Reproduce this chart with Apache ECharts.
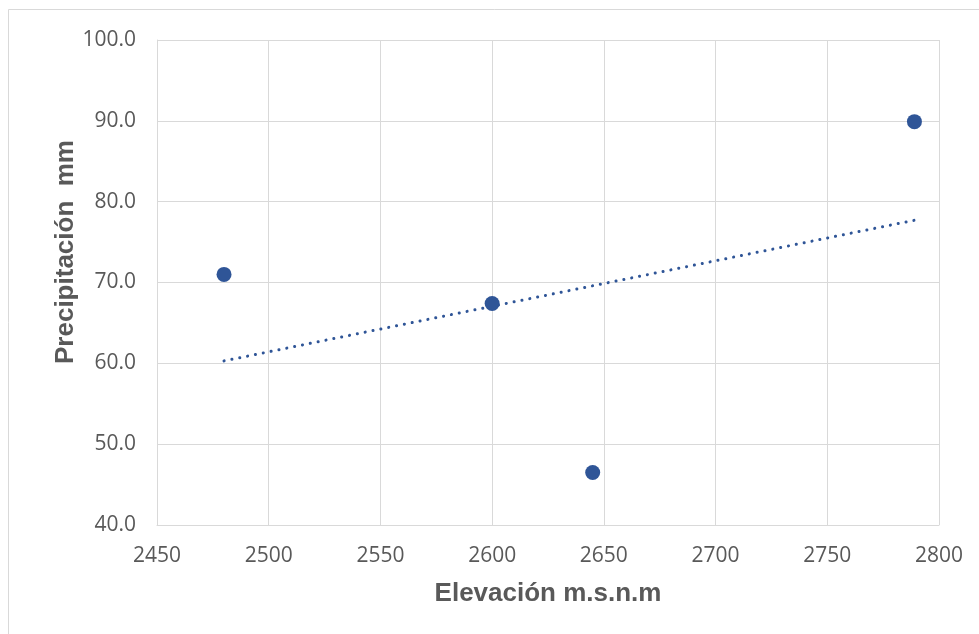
<!DOCTYPE html>
<html>
<head>
<meta charset="utf-8">
<script src="https://cdn.jsdelivr.net/npm/echarts@6/dist/echarts.min.js"></script>
<style>
html,body{margin:0;padding:0;background:#fff;}
#chart{width:979px;height:634px;}
</style>
</head>
<body>
<div id="chart"></div>
<script>
// Data
const elevation = [2480, 2600, 2645, 2789];
const precipitation = [71.0, 67.4, 46.5, 89.9];
// Linear trendline endpoints (as drawn in the reference)
const trendElevation = [2480, 2789];
const trendPrecip = [60.3, 77.7];
const xTitle = 'Elevación m.s.n.m';
const yTitle = 'Precipitación  mm';

const chart = echarts.init(document.getElementById('chart'), null, {renderer: 'canvas'});
const gridColor = '#D9D9D9';
const textColor = '#595959';
const blue = '#2F5597';

chart.setOption({
  backgroundColor: '#ffffff',
  animation: false,
  grid: {left: 157, right: 40, top: 40, bottom: 109, containLabel: false},
  graphic: [
    {type: 'rect', shape: {x: 8.5, y: 9.5, width: 1100, height: 800},
     style: {fill: 'none', stroke: gridColor, lineWidth: 1}, silent: true, z: -10},
    {type: 'text', x: 66, y: 252, rotation: Math.PI / 2,
     style: {text: yTitle, font: 'bold 26px "Liberation Sans", Arial, sans-serif',
             fill: textColor, align: 'center', verticalAlign: 'middle'}}
  ],
  xAxis: {
    type: 'value', min: 2450, max: 2800, interval: 50,
    name: xTitle, nameLocation: 'middle', nameGap: 56,
    nameTextStyle: {fontFamily: '"Liberation Sans", Arial, sans-serif', fontWeight: 'bold', fontSize: 26, color: textColor},
    axisLine: {show: true, lineStyle: {color: gridColor, width: 1}},
    axisTick: {show: false},
    axisLabel: {margin: 21, fontFamily: '"Open Sans", sans-serif', fontSize: 21, color: textColor,
                formatter: v => String(v)},
    splitLine: {show: true, lineStyle: {color: gridColor, width: 1}}
  },
  yAxis: {
    type: 'value', min: 40, max: 100, interval: 10,
    axisLine: {show: true, lineStyle: {color: gridColor, width: 1}},
    axisTick: {show: false},
    axisLabel: {margin: 21, fontFamily: '"Open Sans", sans-serif', fontSize: 21, color: textColor,
                formatter: v => v.toFixed(1)},
    splitLine: {show: true, lineStyle: {color: gridColor, width: 1}}
  },
  series: [
    {
      type: 'line', z: 2,
      data: trendElevation.map((x, i) => [x, trendPrecip[i]]),
      symbol: 'none',
      lineStyle: {color: blue, width: 3, type: [0.1, 7.9], cap: 'round', opacity: 1}
    },
    {
      type: 'scatter', z: 3,
      data: elevation.map((x, i) => [x, precipitation[i]]),
      symbol: 'circle', symbolSize: 15,
      itemStyle: {color: blue, opacity: 1}
    }
  ]
});
</script>
</body>
</html>
